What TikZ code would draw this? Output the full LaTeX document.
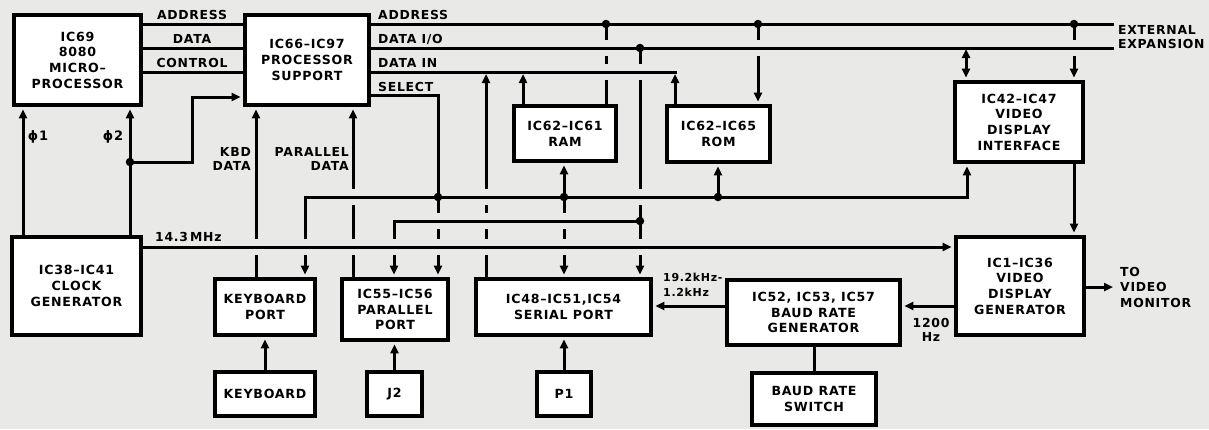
\documentclass[tikz,border=0pt]{standalone}
\usepackage{fontspec}
\setmainfont{DejaVu Sans}[LetterSpace=6]
\usetikzlibrary{arrows.meta}
\definecolor{bg}{RGB}{233,233,231}
\tikzset{
  blk/.style={draw=black, line width=4.8pt, fill=white, align=center, inner sep=0pt,
    font=\bfseries\fontsize{12.6}{15.7}\selectfont},
  ln/.style={line width=3pt, line cap=rect},
  arr/.style={ln, shorten >=2pt, -{Triangle[length=9pt,width=8pt]}},
  darr/.style={ln, shorten >=2pt, shorten <=1pt, {Triangle[length=9pt,width=8pt]}-{Triangle[length=9pt,width=8pt]}},
  lbl/.style={inner sep=0pt, font=\bfseries\fontsize{12.4}{13.5}\selectfont},
  slbl/.style={inner sep=0pt, font=\bfseries\fontsize{11}{15}\selectfont},
  jdot/.style={circle, fill=black, minimum size=8.5pt, inner sep=0pt},
}
\begin{document}
\begin{tikzpicture}[x=1pt,y=-1pt]
\fill[bg] (0,0) rectangle (1209,429);
\useasboundingbox (0,0) rectangle (1209,429);

% ---------- boxes ----------
\node[blk, minimum width=127pt, minimum height=90pt] (cpu) at (77.5,60) {IC69\\8080\\MICRO–\\PROCESSOR};
\node[blk, minimum width=124pt, minimum height=90pt] (sup) at (307,60) {IC66–IC97\\PROCESSOR\\SUPPORT};
\node[blk, minimum width=102pt, minimum height=55pt] (ram) at (565,133.5) {IC62–IC61\\RAM};
\node[blk, minimum width=103pt, minimum height=56pt] (rom) at (718.5,134) {IC62–IC65\\ROM};
\node[blk, minimum width=128pt, minimum height=80pt] (vdi) at (1019,122) {IC42–IC47\\VIDEO\\DISPLAY\\INTERFACE};
\node[blk, minimum width=129pt, minimum height=98pt] (clk) at (76.5,286) {IC38–IC41\\CLOCK\\GENERATOR};
\node[blk, minimum width=100pt, minimum height=56pt] (kbp) at (265,307) {KEYBOARD\\PORT};
\node[blk, minimum width=100pt, minimum height=44pt] (kbd) at (265,394) {KEYBOARD};
\node[blk, minimum width=106pt, minimum height=61pt] (par) at (395,309.5) {IC55–IC56\\PARALLEL\\PORT};
\node[blk, minimum width=55pt, minimum height=44pt] (jtwo) at (394.5,394) {J2};
\node[blk, minimum width=175pt, minimum height=56pt] (ser) at (563.5,307) {IC48–IC51,IC54\\SERIAL PORT};
\node[blk, minimum width=54pt, minimum height=44pt] (pone) at (564,394) {P1};
\node[blk, minimum width=173pt, minimum height=65pt] (baud) at (813.5,312.5) {IC52, IC53, IC57\\BAUD RATE\\GENERATOR};
\node[blk, minimum width=124pt, minimum height=52pt] (bsw) at (814,399) {BAUD RATE\\SWITCH};
\node[blk, minimum width=128pt, minimum height=98pt] (vdg) at (1020,286) {IC1–IC36\\VIDEO\\DISPLAY\\GENERATOR};

% ---------- named points ----------
\coordinate (jphi) at (130,162);
\coordinate (jsel) at (438,197);
\coordinate (jram) at (564,197);
\coordinate (jrom) at (718,197);
\coordinate (jdio) at (640,221);
\coordinate (jdioa) at (640,48);
\coordinate (jaa) at (606,24);
\coordinate (jab) at (758,24);
\coordinate (jac) at (1074,24);
\coordinate (extA) at (1112,24);
\coordinate (extD) at (1112,48);
\coordinate (mon) at (1115,287);
\coordinate (romc) at (675,72);
\coordinate (hal) at (305,197);
\coordinate (har) at (967,197);
\coordinate (hbl) at (394,221);
\coordinate (selc) at (438,95);

% ---------- vertical connectors (drawn first) ----------
\draw[arr] (clk.north -| 23,0) -- (cpu.south -| 23,0);
\draw[arr] (clk.north -| jphi) -- (cpu.south -| jphi);
\draw[arr] (jphi) -| (192,97) -- (sup.west |- 0,97);
\draw[arr] (kbp.north -| 256,0) -- (sup.south -| 256,0);
\draw[arr] (par.north -| 353,0) -- (sup.south -| 353,0);
\draw[arr] (hal) -- (kbp.north -| hal);
\draw[arr] (har) -- (vdi.south -| har);
\draw[ln] (sup.east |- selc) -- (selc) -- (jsel);
\draw[arr] (jsel) -- (par.north -| jsel);
\draw[arr] (jram) -- (ram.south -| jram);
\draw[arr] (jram) -- (ser.north -| jram);
\draw[arr] (jrom) -- (rom.south -| jrom);
\draw[arr] (jdioa) -- (ser.north -| jdioa);
\draw[arr] (hbl) -- (par.north -| hbl);
\draw[arr] (ser.north -| 486,0) -- (486,72);
\draw[arr] (ram.north -| 523,0) -- (523,72);
\draw[arr] (rom.north -| romc) -- (romc);
\draw[ln] (jaa) -- (ram.north -| jaa);
\draw[arr] (jab) -- (rom.north -| jab);
\draw[arr] (jac) -- (vdi.north -| jac);
\draw[darr] (966,48) -- (vdi.north -| 966,0);
\draw[arr] (vdi.south -| jac) -- (vdg.north -| jac);
\draw[arr] (kbd.north) -- (kbp.south);
\draw[arr] (jtwo.north) -- (par.south -| jtwo.north);
\draw[arr] (pone.north) -- (ser.south -| pone.north);
\draw[ln] (bsw.north) -- (baud.south -| bsw.north);

% ---------- gaps where lines cross without joining ----------
\foreach \gx/\gy in {606/48,758/48,1074/48, 606/72,640/72,
  353/197,486/197,640/197, 438/221,486/221,564/221,
  256/247,306/247,353/247,394/247,438/247,486/247,564/247,640/247}
  { \fill[bg] (\gx-2.8,\gy-8) rectangle (\gx+2.8,\gy+8); }

% ---------- horizontal buses ----------
\draw[ln] (cpu.east |- 0,24) -- (sup.west |- 0,24);
\draw[ln] (cpu.east |- 0,48) -- (sup.west |- 0,48);
\draw[ln] (cpu.east |- 0,72) -- (sup.west |- 0,72);
\draw[ln] (sup.east |- extA) -- (extA);
\draw[ln] (sup.east |- extD) -- (extD);
\draw[ln] (sup.east |- romc) -- (romc);
\draw[ln] (hal) -- (har);
\draw[ln] (hbl) -- (jdio);
\draw[arr] (clk.east |- 0,247) -- (vdg.west |- 0,247);
\draw[arr] (vdg.east |- mon) -- (mon);
\draw[arr] (vdg.west |- 0,306) -- (baud.east |- 0,306);
\draw[arr] (baud.west |- 0,306) -- (ser.east |- 0,306);

% ---------- junction dots ----------
\foreach \j in {jphi,jsel,jram,jrom,jdio,jdioa,jaa,jab,jac}
  { \node[jdot] at (\j) {}; }

% ---------- labels ----------
\node[lbl] (lba) at (192,15) {ADDRESS};
\node[lbl] (lbd) at (192,39) {DATA};
\node[lbl] (lbc) at (192,63) {CONTROL};
\node[lbl, anchor=west] (lra) at (378,15) {ADDRESS};
\node[lbl, anchor=west] (lrd) at (378,39) {DATA I/O};
\node[lbl, anchor=west] (lri) at (378,63) {DATA IN};
\node[lbl, anchor=west] (lrs) at (378,87) {SELECT};
\node[lbl, anchor=west, align=left] (lext) at (1118,37) {EXTERNAL\\EXPANSION};
\node[lbl, font=\bfseries\fontsize{13}{14}\selectfont] (lpa) at (38,137) {ϕ1};
\node[lbl, font=\bfseries\fontsize{13}{14}\selectfont] (lpb) at (113,137) {ϕ2};
\node[lbl, anchor=west] (lmhz) at (155,237) {14.3\,MHz};
\node[lbl, anchor=east, align=right] (lkbd) at (251,159) {KBD\\DATA};
\node[lbl, anchor=east, align=right] (lpar) at (349,159) {PARALLEL\\DATA};
\node[slbl, anchor=west, align=left] (lkhz) at (663,285) {19.2kHz-\\1.2kHz};
\node[lbl, align=center] (lhz) at (931,330) {1200\\Hz};
\node[lbl, anchor=west, align=left, font=\bfseries\fontsize{12.4}{15.5}\selectfont] (lmon) at (1120,287) {TO\\VIDEO\\MONITOR};
\end{tikzpicture}
\end{document}
